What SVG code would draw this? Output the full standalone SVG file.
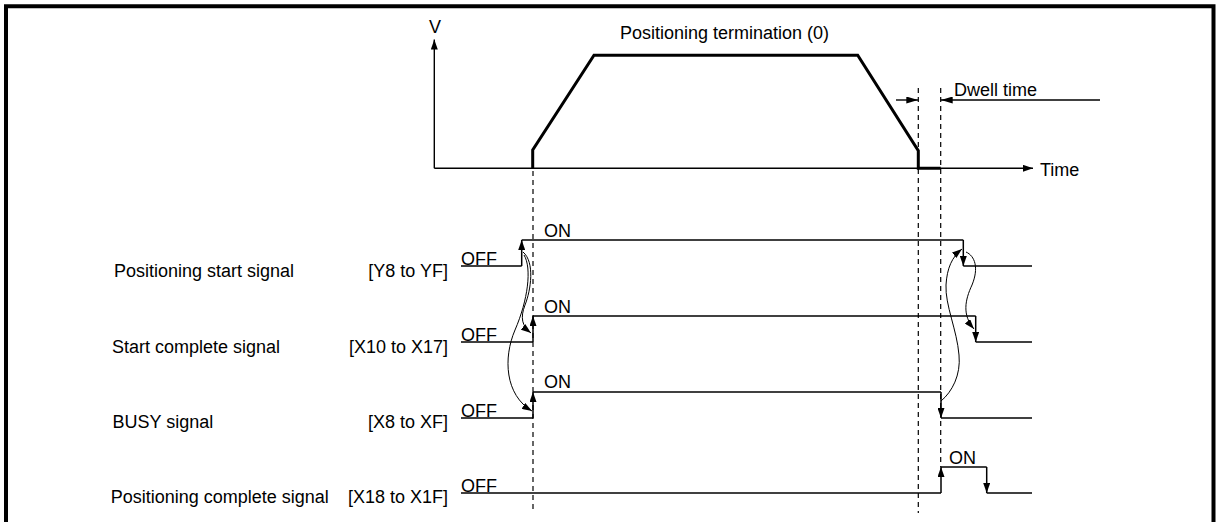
<svg xmlns="http://www.w3.org/2000/svg" width="1216" height="522" viewBox="0 0 1216 522">
<defs>
<marker id="ah" markerUnits="userSpaceOnUse" markerWidth="10" markerHeight="7" refX="10" refY="3.5" orient="auto" viewBox="0 0 10 7">
<path d="M0,0 L10,3.5 L0,7 z" fill="#000"/>
</marker>
<marker id="ahd" markerUnits="userSpaceOnUse" markerWidth="12" markerHeight="7" refX="12" refY="3.5" orient="auto" viewBox="0 0 12 7">
<path d="M0,0 L12,3.5 L0,7 z" fill="#000"/>
</marker>
</defs>
<style>
text{font-family:"Liberation Sans",Arial,sans-serif;font-size:18px;fill:#000}
.sig{fill:none;stroke:#000;stroke-width:1.5}
.edge{stroke:#000;stroke-width:1.5;marker-end:url(#ah)}
.dash{stroke:#000;stroke-width:1.2;stroke-dasharray:5 4}
.curve{fill:none;stroke:#000;stroke-width:1;marker-end:url(#ah)}
.prof{fill:none;stroke:#000;stroke-width:3;stroke-linejoin:miter}
.axis{stroke:#000;stroke-width:1.4;fill:none}
</style>
<rect width="1216" height="522" fill="#fff"/>
<path d="M6,522 V6.3 H1213.5 V522" fill="none" stroke="#000" stroke-width="4"/>

<g id="graph">
<line class="axis" x1="434.3" y1="168.3" x2="434.3" y2="39.5" marker-end="url(#ah)"/>
<line class="axis" x1="434.3" y1="168.3" x2="1033" y2="168.3" marker-end="url(#ah)"/>
<text x="435" y="33" text-anchor="middle">V</text>
<text x="1040" y="176">Time</text>
<polyline class="prof" points="532.7,168.3 532.7,150 594,55.3 857.7,55.3 918.3,150.7 918.3,168.3 940.7,168.3"/>
<text x="620" y="39">Positioning termination (0)</text>
</g>

<g id="dwell">
<line class="axis" x1="896" y1="100" x2="918.3" y2="100" marker-end="url(#ahd)" stroke-width="1.2"/>
<line class="axis" x1="1100" y1="100" x2="940.7" y2="100" marker-end="url(#ahd)" stroke-width="1.2"/>
<text x="954" y="96">Dwell time</text>
</g>

<g id="guides">
<line class="dash" x1="533" y1="171" x2="533" y2="513"/>
<line class="dash" x1="918.3" y1="88" x2="918.3" y2="513"/>
<line class="dash" x1="940.7" y1="88" x2="940.7" y2="467"/>
</g>

<g id="sig-start">
<text x="114" y="277">Positioning start signal</text>
<text x="448" y="277" text-anchor="end">[Y8 to YF]</text>
<text x="461" y="265">OFF</text>
<text x="544" y="236.5">ON</text>
<polyline class="sig" points="461,266 521.7,266"/>
<line class="edge" x1="521.7" y1="266" x2="521.7" y2="240"/>
<polyline class="sig" points="521.7,240 963.3,240"/>
<line class="edge" x1="963.3" y1="240" x2="963.3" y2="266"/>
<polyline class="sig" points="963.3,266 1032,266"/>
</g>

<g id="sig-startcomplete">
<text x="112" y="353">Start complete signal</text>
<text x="448" y="353" text-anchor="end">[X10 to X17]</text>
<text x="461" y="341">OFF</text>
<text x="544" y="312.5">ON</text>
<polyline class="sig" points="461,342 533,342"/>
<line class="edge" x1="533" y1="342" x2="533" y2="316"/>
<polyline class="sig" points="533,316 975.7,316"/>
<line class="edge" x1="975.7" y1="316" x2="975.7" y2="342"/>
<polyline class="sig" points="975.7,342 1032,342"/>
</g>

<g id="sig-busy">
<text x="112.5" y="428">BUSY signal</text>
<text x="448" y="428" text-anchor="end">[X8 to XF]</text>
<text x="461" y="417">OFF</text>
<text x="544" y="388">ON</text>
<polyline class="sig" points="461,418 533,418"/>
<line class="edge" x1="533" y1="418" x2="533" y2="392"/>
<polyline class="sig" points="533,392 941,392"/>
<line class="edge" x1="941" y1="392" x2="941" y2="418"/>
<polyline class="sig" points="941,418 1032,418"/>
</g>

<g id="sig-poscomplete">
<text x="110.7" y="503">Positioning complete signal</text>
<text x="448" y="503" text-anchor="end">[X18 to X1F]</text>
<text x="461" y="492">OFF</text>
<text x="949" y="464">ON</text>
<polyline class="sig" points="461,493 941,493"/>
<line class="edge" x1="941" y1="493" x2="941" y2="467"/>
<polyline class="sig" points="941,467 986.7,467"/>
<line class="edge" x1="986.7" y1="467" x2="986.7" y2="493"/>
<polyline class="sig" points="986.7,493 1032,493"/>
</g>

<g id="connectors">
<path class="curve" d="M523,252 C535,262 531,290 525,305 C520,318 522,326 531,333"/>
<path class="curve" d="M524,255 C532,268 528,300 515,330 C503,358 505,395 532,411"/>
<path class="curve" d="M941,401 C952,392 961,375 959,355 C957,330 945,305 946,285 C947,268 952,257 962,249"/>
<path class="curve" d="M966,252 C975,256 979,268 972,285 C965,300 962,315 974,329"/>
</g>
</svg>
